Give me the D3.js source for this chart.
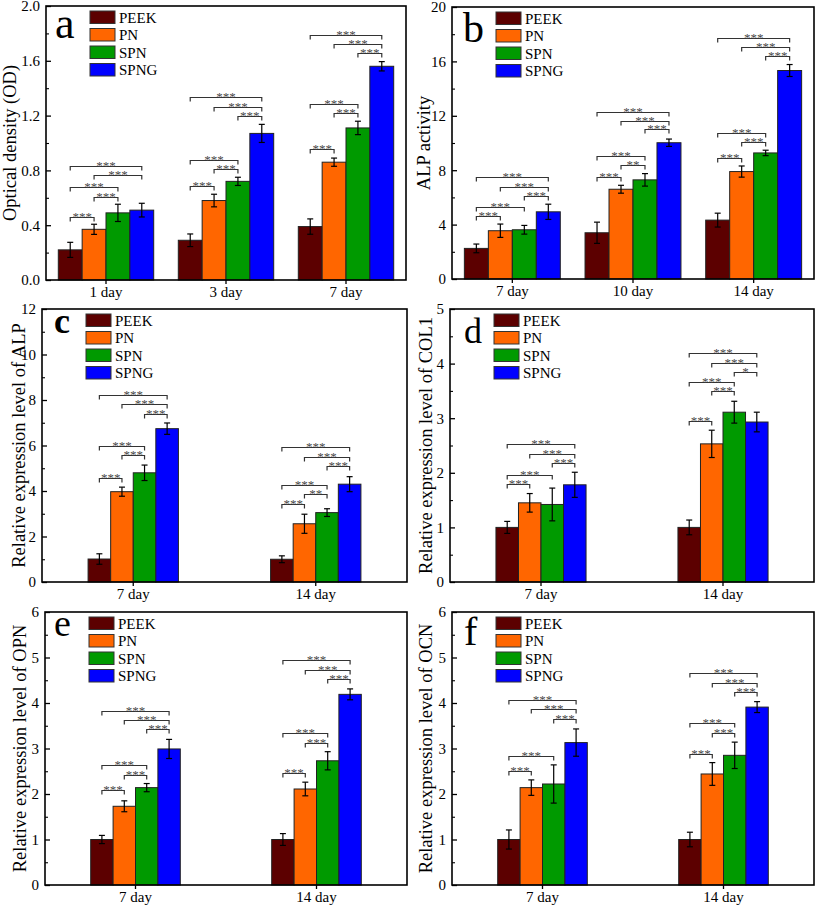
<!DOCTYPE html>
<html>
<head>
<meta charset="utf-8">
<script src="https://cdn.jsdelivr.net/npm/d3@7"></script>
<style>
  html, body { margin: 0; padding: 0; background: #fff; }
  svg { display: block; }
  svg text { font-family: "Liberation Serif", "Times New Roman", serif; }
</style>
</head>
<body>
<svg id="chart" width="817" height="909" font-family="Liberation Serif, Times New Roman, serif"></svg>
<script>
// ---------------- DATA ----------------
const seriesNames = ["PEEK", "PN", "SPN", "SPNG"];
const seriesColors = ["#5c0000", "#ff6600", "#009a00", "#0000ff"];

// Panel a: Optical density (OD)
const groupsA = ["1 day", "3 day", "7 day"];
const meansA = [[0.22, 0.29, 0.39], [0.37, 0.58, 0.86], [0.49, 0.72, 1.11], [0.51, 1.07, 1.56]];
const errsA  = [[0.055, 0.046, 0.056], [0.037, 0.046, 0.03], [0.063, 0.03, 0.049], [0.05, 0.066, 0.034]];
const yTicksA = [0, 0.4, 0.8, 1.2, 1.6, 2.0];
const sigA = [
  [0,0,1,0.462,"***"],[0,1,2,0.608,"***"],[0,0,2,0.676,"***"],[0,1,3,0.766,"***"],[0,0,3,0.835,"***"],
  [1,0,1,0.686,"***"],[1,1,2,0.81,"***"],[1,0,2,0.876,"***"],[1,2,3,1.2,"***"],[1,1,3,1.265,"***"],[1,0,3,1.333,"***"],
  [2,0,1,0.954,"***"],[2,1,2,1.217,"***"],[2,0,2,1.282,"***"],[2,2,3,1.655,"***"],[2,1,3,1.723,"***"],[2,0,3,1.788,"***"]
];

// Panel b: ALP activity
const groupsB = ["7 day", "10 day", "14 day"];
const meansB = [[2.25, 3.4, 4.33], [3.55, 6.6, 7.9], [3.62, 7.29, 9.27], [4.94, 10.02, 15.33]];
const errsB  = [[0.32, 0.78, 0.51], [0.49, 0.29, 0.41], [0.32, 0.46, 0.2], [0.56, 0.27, 0.44]];
const yTicksB = [0, 4, 8, 12, 16, 20];
const sigB = [
  [0,0,1,4.65,"***"],[0,0,2,5.3,"***"],[0,2,3,6.13,"***"],[0,1,3,6.8,"***"],[0,0,3,7.48,"***"],
  [1,0,1,7.53,"***"],[1,1,2,8.36,"**"],[1,0,2,9.05,"***"],[1,2,3,11.0,"***"],[1,1,3,11.6,"***"],[1,0,3,12.3,"***"],
  [2,0,1,8.87,"***"],[2,1,2,10.05,"***"],[2,0,2,10.7,"***"],[2,2,3,16.4,"***"],[2,1,3,17.07,"***"],[2,0,3,17.75,"***"]
];

// Panel c: ALP expression
const groupsC = ["7 day", "14 day"];
const meansC = [[1.01, 1.0], [3.97, 2.56], [4.8, 3.05], [6.74, 4.3]];
const errsC  = [[0.23, 0.15], [0.2, 0.42], [0.34, 0.17], [0.25, 0.33]];
const yTicksC = [0, 2, 4, 6, 8, 10, 12];
const sigC = [
  [0,0,1,4.57,"***"],[0,1,2,5.57,"***"],[0,0,2,5.98,"***"],[0,2,3,7.4,"***"],[0,1,3,7.82,"***"],[0,0,3,8.23,"***"],
  [1,0,1,3.41,"***"],[1,1,2,3.87,"**"],[1,0,2,4.28,"***"],[1,2,3,5.08,"***"],[1,1,3,5.49,"***"],[1,0,3,5.92,"***"]
];

// Panel d: COL1 expression
const groupsD = ["7 day", "14 day"];
const meansD = [[1.0, 1.0], [1.45, 2.53], [1.42, 3.11], [1.78, 2.93]];
const errsD  = [[0.11, 0.135], [0.17, 0.25], [0.3, 0.2], [0.23, 0.18]];
const yTicksD = [0, 1, 2, 3, 4, 5];
const sigD = [
  [0,0,1,1.79,"***"],[0,0,2,1.96,"***"],[0,2,3,2.18,"***"],[0,1,3,2.35,"***"],[0,0,3,2.53,"***"],
  [1,0,1,2.94,"***"],[1,1,2,3.49,"***"],[1,0,2,3.66,"***"],[1,2,3,3.84,"*"],[1,1,3,4.02,"***"],[1,0,3,4.2,"***"]
];

// Panel e: OPN expression
const groupsE = ["7 day", "14 day"];
const meansE = [[1.0, 1.0], [1.73, 2.11], [2.14, 2.73], [2.99, 4.19]];
const errsE  = [[0.09, 0.13], [0.12, 0.15], [0.09, 0.2], [0.21, 0.12]];
const yTicksE = [0, 1, 2, 3, 4, 5, 6];
const sigE = [
  [0,0,1,2.08,"***"],[0,1,2,2.42,"***"],[0,0,2,2.63,"***"],[0,2,3,3.42,"***"],[0,1,3,3.62,"***"],[0,0,3,3.83,"***"],
  [1,0,1,2.47,"***"],[1,1,2,3.12,"***"],[1,0,2,3.33,"***"],[1,2,3,4.52,"***"],[1,1,3,4.73,"***"],[1,0,3,4.95,"***"]
];

// Panel f: OCN expression
const groupsF = ["7 day", "14 day"];
const meansF = [[1.0, 1.0], [2.14, 2.44], [2.22, 2.85], [3.13, 3.91]];
const errsF  = [[0.21, 0.16], [0.17, 0.25], [0.42, 0.29], [0.3, 0.12]];
const yTicksF = [0, 1, 2, 3, 4, 5, 6];
const sigF = [
  [0,0,1,2.51,"***"],[0,0,2,2.84,"***"],[0,2,3,3.65,"***"],[0,1,3,3.86,"***"],[0,0,3,4.06,"***"],
  [1,0,1,2.89,"***"],[1,1,2,3.34,"***"],[1,0,2,3.55,"***"],[1,2,3,4.24,"***"],[1,1,3,4.45,"***"],[1,0,3,4.65,"***"]
];

// ---------------- PANELS (layout) ----------------
const panels = [
  { letter: "a", title: "Optical density (OD)", groups: groupsA, means: meansA, errs: errsA, ticks: yTicksA, sig: sigA, fmt: ".1f",
    box: [46, 6, 406, 280], frac: 0.795, titleOff: 30, letterPos: [55, 38], letterSize: 44, bold: false },
  { letter: "b", title: "ALP activity", groups: groupsB, means: meansB, errs: errsB, ticks: yTicksB, sig: sigB, fmt: "d",
    box: [452, 7, 814, 279], frac: 0.795, titleOff: 22, letterPos: [463, 42], letterSize: 42, bold: false },
  { letter: "c", title: "Relative expression level of ALP", groups: groupsC, means: meansC, errs: errsC, ticks: yTicksC, sig: sigC, fmt: "d",
    box: [42, 309, 407, 582], frac: 0.495, titleOff: 17, letterPos: [54, 333], letterSize: 36, bold: true },
  { letter: "d", title: "Relative expression level of COL1", groups: groupsD, means: meansD, errs: errsD, ticks: yTicksD, sig: sigD, fmt: "d",
    box: [450, 309, 814, 582], frac: 0.495, titleOff: 18, letterPos: [464, 343], letterSize: 36, bold: false },
  { letter: "e", title: "Relative expression level of OPN", groups: groupsE, means: meansE, errs: errsE, ticks: yTicksE, sig: sigE, fmt: "d",
    box: [45, 612, 407, 885], frac: 0.495, titleOff: 19, letterPos: [54, 636], letterSize: 38, bold: false },
  { letter: "f", title: "Relative expression level of OCN", groups: groupsF, means: meansF, errs: errsF, ticks: yTicksF, sig: sigF, fmt: "d",
    box: [452, 612, 814, 885], frac: 0.495, titleOff: 20, letterPos: [464, 645], letterSize: 40, bold: false }
];

const FONT = "Liberation Serif, Times New Roman, serif";
const svg = d3.select("#chart");

panels.forEach(p => {
  const [L, T, R, B] = p.box;
  const g = svg.append("g").attr("font-family", FONT);
  const x0 = d3.scaleBand().domain(p.groups).range([L, R]).paddingInner(0).paddingOuter(0);
  const gw = x0.bandwidth() * p.frac;
  const x1 = d3.scaleBand().domain(seriesNames).range([-gw / 2, gw / 2]);
  const bw = x1.bandwidth();
  const yMax = p.ticks[p.ticks.length - 1];
  const y = d3.scaleLinear().domain([0, yMax]).range([B, T]);
  const cx = (gi, si) => x0(p.groups[gi]) + x0.bandwidth() / 2 + x1(seriesNames[si]) + bw / 2;

  // bars
  seriesNames.forEach((s, si) => {
    p.groups.forEach((grp, gi) => {
      const v = p.means[si][gi];
      g.append("rect")
        .attr("x", cx(gi, si) - bw / 2)
        .attr("y", y(v))
        .attr("width", bw)
        .attr("height", y(0) - y(v))
        .attr("fill", seriesColors[si])
        .attr("stroke", "#222")
        .attr("stroke-width", 1);
    });
  });

  // error bars
  seriesNames.forEach((s, si) => {
    p.groups.forEach((grp, gi) => {
      const v = p.means[si][gi], e = p.errs[si][gi];
      const xc = cx(gi, si);
      const eb = g.append("g").attr("stroke", "#000").attr("stroke-width", 1.2);
      eb.append("line").attr("x1", xc).attr("x2", xc).attr("y1", y(v - e)).attr("y2", y(v + e));
      eb.append("line").attr("x1", xc - 3).attr("x2", xc + 3).attr("y1", y(v - e)).attr("y2", y(v - e));
      eb.append("line").attr("x1", xc - 3).attr("x2", xc + 3).attr("y1", y(v + e)).attr("y2", y(v + e));
    });
  });

  // significance brackets
  p.sig.forEach(([gi, a, b, yv, lab]) => {
    const xa = cx(gi, a), xb = cx(gi, b), yy = Math.round(y(yv)) + 0.5;
    g.append("path")
      .attr("d", `M${xa},${yy + 4}V${yy}H${xb}V${yy + 4}`)
      .attr("fill", "none")
      .attr("stroke", "#333")
      .attr("stroke-width", 1.2);
    g.append("text")
      .attr("x", (xa + xb) / 2)
      .attr("y", yy + 3)
      .attr("text-anchor", "middle")
      .attr("font-family", FONT)
      .attr("font-size", 13)
      .attr("fill", "#4a4a4a")
      .text(lab);
  });

  // y axis (major ticks inward, labels outside)
  const fmt = d3.format(p.fmt);
  const yAxis = g.append("g")
    .attr("transform", `translate(${L},0)`)
    .call(d3.axisLeft(y).tickValues(p.ticks).tickSize(-5).tickPadding(6).tickFormat(fmt))
    .attr("font-family", FONT);
  yAxis.select(".domain").remove();
  yAxis.selectAll(".tick line").attr("stroke", "#000").attr("stroke-width", 1.3);
  yAxis.selectAll(".tick text").attr("font-size", 15).attr("fill", "#000").attr("font-family", FONT);

  // minor ticks
  const minor = [];
  for (let i = 0; i < p.ticks.length - 1; i++) minor.push((p.ticks[i] + p.ticks[i + 1]) / 2);
  const yMinor = g.append("g")
    .attr("transform", `translate(${L},0)`)
    .call(d3.axisLeft(y).tickValues(minor).tickSize(-3).tickFormat(""));
  yMinor.select(".domain").remove();
  yMinor.selectAll(".tick line").attr("stroke", "#000").attr("stroke-width", 1.1);

  // x axis
  const xAxis = g.append("g")
    .attr("transform", `translate(0,${B})`)
    .call(d3.axisBottom(x0).tickSize(4).tickPadding(2))
    .attr("font-family", FONT);
  xAxis.select(".domain").remove();
  xAxis.selectAll(".tick line").attr("stroke", "#000").attr("stroke-width", 1.3);
  xAxis.selectAll(".tick text").attr("font-size", 15).attr("fill", "#000").attr("font-family", FONT);

  // frame
  g.append("rect")
    .attr("x", L).attr("y", T)
    .attr("width", R - L).attr("height", B - T)
    .attr("fill", "none")
    .attr("stroke", "#000")
    .attr("stroke-width", 1.6);

  // y title
  g.append("text")
    .attr("transform", `translate(${L - p.titleOff},${(T + B) / 2}) rotate(-90)`)
    .attr("text-anchor", "middle")
    .attr("font-family", FONT)
    .attr("font-size", 18.5)
    .attr("fill", "#000")
    .text(p.title);

  // panel letter
  g.append("text")
    .attr("x", p.letterPos[0])
    .attr("y", p.letterPos[1])
    .attr("font-family", FONT)
    .attr("font-size", p.letterSize)
    .attr("font-weight", p.bold ? "bold" : "normal")
    .attr("fill", "#000")
    .text(p.letter);

  // legend
  const lg = g.append("g").attr("transform", `translate(${L + 44},${T + 5})`);
  seriesNames.forEach((s, si) => {
    lg.append("rect")
      .attr("x", 0).attr("y", si * 17.5)
      .attr("width", 25).attr("height", 12.5)
      .attr("fill", seriesColors[si])
      .attr("stroke", "#333").attr("stroke-width", 1);
    lg.append("text")
      .attr("x", 29).attr("y", si * 17.5 + 11.5)
      .attr("font-family", FONT)
      .attr("font-size", 15)
      .attr("fill", "#000")
      .text(s);
  });
});
</script>
</body>
</html>
